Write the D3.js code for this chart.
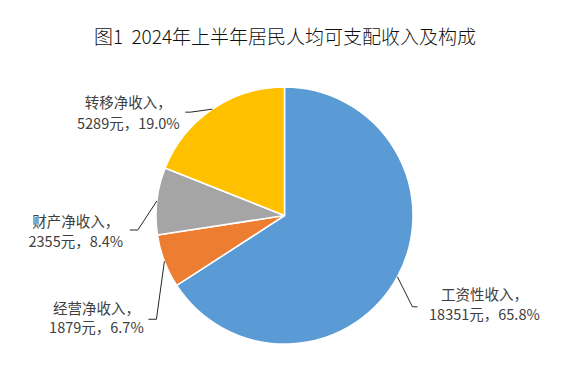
<!DOCTYPE html>
<html><head><meta charset="utf-8">
<script src="https://cdn.jsdelivr.net/npm/d3@7"></script>
<style>html,body{margin:0;padding:0;background:#fff;} text{white-space:pre;}</style>
</head><body>
<svg id="chart" width="587" height="383"></svg>
<script>
const title = "图1  2024年上半年居民人均可支配收入及构成";
const categories = ["工资性收入", "经营净收入", "财产净收入", "转移净收入"];
const values = [18351, 1879, 2355, 5289];
const pctLabels = ["65.8%", "6.7%", "8.4%", "19.0%"];
const colors = ["#5B9BD5", "#ED7D31", "#A5A5A5", "#FFC000"];

// label layout (leader bend offset from slice edge, horizontal tail, text block offset)
const layout = [
  {bx: 15, by: 30, tail: 5, tx: 67, ty1: -7, ty2: 13},
  {bx: -8, by: 58, tail: -8, tx: -52, ty1: -5, ty2: 14},
  {bx: -19, by: 29, tail: -8, tx: -54, ty1: -3, ty2: 17},
  {bx: -22, by: 3, tail: -5, tx: -57, ty1: -4, ty2: 17}
];

const svg = d3.select("#chart");
const cx = 284.5, cy = 215.5, r = 128.5;
const font = "'Noto Sans CJK SC', 'Noto Sans', sans-serif";

svg.append("text").attr("x", 285).attr("y", 44).attr("text-anchor", "middle")
  .attr("font-family", font).attr("font-size", 19).attr("font-weight", 300).attr("fill", "#111")
  .text(title);

const data = categories.map((c, i) => ({cat: c, value: values[i], pct: pctLabels[i], color: colors[i], lay: layout[i]}));
const pie = d3.pie().value(d => d.value).sort(null);
const arcs = pie(data);
const arc = d3.arc().innerRadius(0).outerRadius(r);

const g = svg.append("g").attr("transform", `translate(${cx},${cy})`);
g.selectAll("path.slice").data(arcs).join("path")
  .attr("class", "slice")
  .attr("d", arc)
  .attr("fill", d => d.data.color)
  .attr("stroke", "#fff").attr("stroke-width", 1.5).attr("stroke-linejoin", "round");

arcs.forEach(d => {
  const a = (d.startAngle + d.endAngle) / 2;
  const sx = r * Math.sin(a), sy = -r * Math.cos(a);
  const L = d.data.lay;
  const bx = sx + L.bx, by = sy + L.by;
  const ex = bx + L.tail, ey = by;
  g.append("polyline")
    .attr("points", `${sx},${sy} ${bx},${by} ${ex},${ey}`)
    .attr("fill", "none").attr("stroke", "#262626").attr("stroke-width", 1);
  const t = g.append("text").attr("text-anchor", "middle")
    .attr("font-family", font).attr("font-size", 14.5).attr("fill", "#404040");
  t.append("tspan").attr("x", ex + L.tx).attr("y", ey + L.ty1).text(d.data.cat + "，");
  t.append("tspan").attr("x", ex + L.tx).attr("y", ey + L.ty2).text(d.data.value + "元，" + d.data.pct);
});
</script>
</body></html>
